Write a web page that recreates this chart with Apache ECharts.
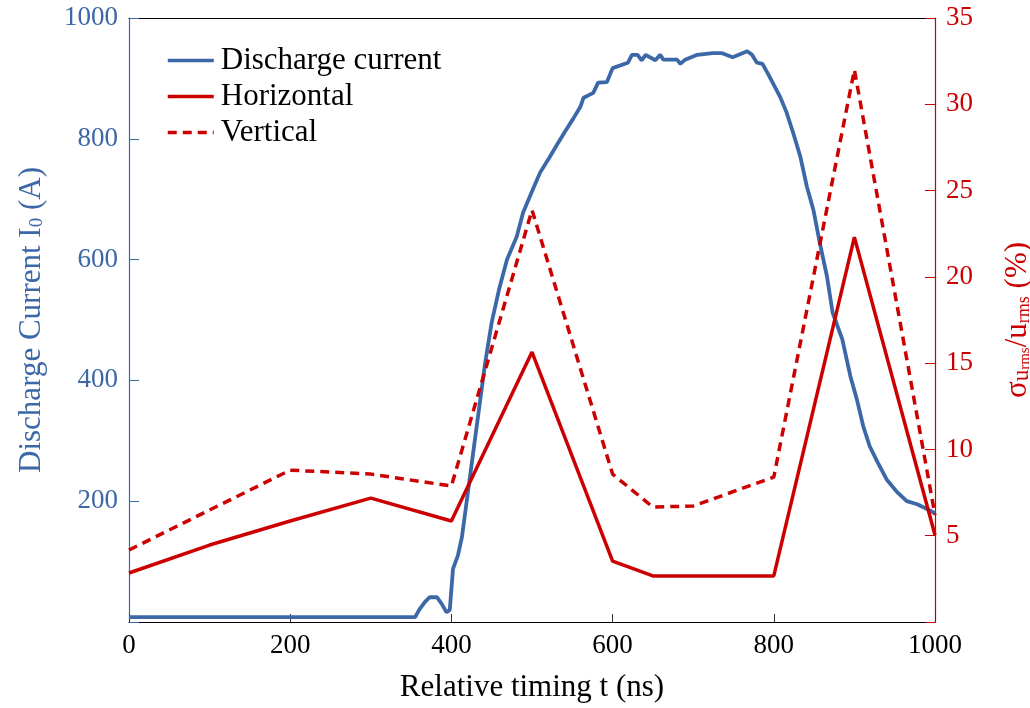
<!DOCTYPE html>
<html>
<head>
<meta charset="utf-8">
<script src="https://cdn.jsdelivr.net/npm/echarts@6/dist/echarts.min.js"></script>
<style>html,body{margin:0;padding:0;background:#fff;}#c{width:1030px;height:708px;}</style>
</head>
<body>
<div id="c"></div>
<script>
// ---- data ----
const currentT = [0, 355, 360, 367, 373, 382, 388, 394, 398, 402, 408, 413, 420, 428, 442, 450, 459, 469, 481, 489, 501, 510, 522, 531, 541, 551, 560, 564, 576, 582, 593, 600, 619, 624, 631, 636, 641, 653, 659, 663, 680, 684, 690, 705, 724, 735, 749, 767, 773, 779, 786, 795, 808, 816, 824, 833, 841, 849, 857, 866, 873, 885, 895, 903, 911, 919, 929, 940, 953, 965, 978, 990, 1000];
const currentA = [8, 8, 20, 33, 41, 41, 30, 16, 20, 88, 110, 140, 210, 290, 430, 496, 550, 600, 638, 678, 716, 744, 770, 790, 812, 833, 853, 868, 876, 893, 894, 917, 926, 939, 939, 930, 939, 930, 939, 931, 931, 924, 931, 939, 942, 942, 935, 945, 939, 926, 924, 902, 869, 843, 810, 770, 721, 683, 628, 572, 512, 468, 407, 369, 324, 291, 264, 236, 215, 200, 195, 187, 180];
const horizT = [0, 100, 200, 300, 400, 500, 600, 650, 700, 750, 800, 900, 1000];
const horizV = [2.84, 4.46, 5.85, 7.18, 5.85, 15.64, 3.53, 2.67, 2.67, 2.67, 2.67, 22.3, 5.04];
const vertT = [0, 100, 200, 300, 400, 500, 600, 650, 700, 800, 900, 1000];
const vertV = [4.17, 6.49, 8.8, 8.57, 7.88, 23.87, 8.57, 6.66, 6.72, 8.4, 32.0, 6.2];
const seriesNames = ['Discharge current', 'Horizontal', 'Vertical'];

const BLUE = '#3c68a8';
const RED = '#cc0000';
const FONT = 'Liberation Serif';
const FS = 27;   // tick labels
const FT = 31;   // titles / legend

const zip = (a, b) => a.map((x, i) => [x, b[i]]);

const chart = echarts.init(document.getElementById('c'), null, {renderer: 'canvas'});
chart.setOption({
  animation: false,
  backgroundColor: '#fff',
  grid: {left: 129, right: 95, top: 18, bottom: 86, containLabel: false, outerBoundsMode: 'none'},
  legend: {
    data: seriesNames,
    orient: 'vertical',
    left: 161, top: 40,
    itemWidth: 46, itemHeight: 20, itemGap: 5,
    itemStyle: {opacity: 0},
    lineStyle: {width: 3.5},
    textStyle: {fontFamily: FONT, fontSize: FT, color: '#000', padding: [0, 0, 0, 2]}
  },
  xAxis: [{
    type: 'value', min: 0, max: 1000, interval: 200,
    position: 'bottom',
    name: 'Relative timing t (ns)', nameLocation: 'middle', nameGap: 50,
    nameTextStyle: {fontFamily: FONT, fontSize: FT, color: '#000'},
    axisLine: {show: true, onZero: false, lineStyle: {color: '#000', width: 1.2}},
    axisTick: {show: true, inside: true, length: 8, lineStyle: {color: '#333'}},
    axisLabel: {fontFamily: FONT, fontSize: FS, color: '#000', margin: 10,
      formatter: v => String(v)},
    splitLine: {show: false}
  }, {
    type: 'value', min: 0, max: 1000, position: 'top',
    axisLine: {show: true, onZero: false, lineStyle: {color: '#000', width: 1.2}},
    axisTick: {show: false}, axisLabel: {show: false}, splitLine: {show: false}
  }],
  yAxis: [{
    type: 'value', min: 0, max: 1000, interval: 200, position: 'left',
    name: 'Discharge Current I{sub|0} (A)', nameLocation: 'middle', nameGap: 82,
    nameTextStyle: {fontFamily: FONT, fontSize: FT, color: BLUE,
      rich: {sub: {fontFamily: FONT, fontSize: 19, color: BLUE, verticalAlign: 'bottom'}}},
    axisLine: {show: true, onZero: false, lineStyle: {color: BLUE, width: 1.2}},
    axisTick: {show: true, inside: true, length: 10, lineStyle: {color: BLUE}},
    axisLabel: {fontFamily: FONT, fontSize: FS, color: BLUE, margin: 11,
      formatter: v => v === 0 ? '' : String(v)},
    splitLine: {show: false}
  }, {
    type: 'value', min: 0, max: 35, interval: 5, position: 'right',
    name: 'σ{s|u}{ss|rms}/u{s2|rms} (%)', nameLocation: 'middle', nameGap: 67,
    nameTextStyle: {fontFamily: FONT, fontSize: FT, color: RED,
      rich: {
        s: {fontFamily: FONT, fontSize: 23, color: RED, verticalAlign: 'bottom'},
        ss: {fontFamily: FONT, fontSize: 15, color: RED, verticalAlign: 'bottom'},
        s2: {fontFamily: FONT, fontSize: 18, color: RED, verticalAlign: 'bottom'}
      }},
    axisLine: {show: true, onZero: false, lineStyle: {color: RED, width: 1.2}},
    axisTick: {show: true, inside: true, length: 10, lineStyle: {color: RED}},
    axisLabel: {fontFamily: FONT, fontSize: FS, color: RED, margin: 11,
      formatter: v => v === 0 ? '' : String(v)},
    splitLine: {show: false}
  }],
  series: [{
    name: seriesNames[0], type: 'line', xAxisIndex: 0, yAxisIndex: 0,
    data: zip(currentT, currentA), symbol: 'none', z: 3,
    itemStyle: {color: BLUE},
    lineStyle: {color: BLUE, width: 3.8}
  }, {
    name: seriesNames[1], type: 'line', xAxisIndex: 0, yAxisIndex: 1,
    data: zip(horizT, horizV), symbol: 'none', z: 4,
    itemStyle: {color: RED},
    lineStyle: {color: RED, width: 3.5}
  }, {
    name: seriesNames[2], type: 'line', xAxisIndex: 0, yAxisIndex: 1,
    data: zip(vertT, vertV), symbol: 'none', z: 4,
    itemStyle: {color: RED},
    lineStyle: {color: RED, width: 3.5, type: [9, 6]}
  }]
});
</script>
</body>
</html>
